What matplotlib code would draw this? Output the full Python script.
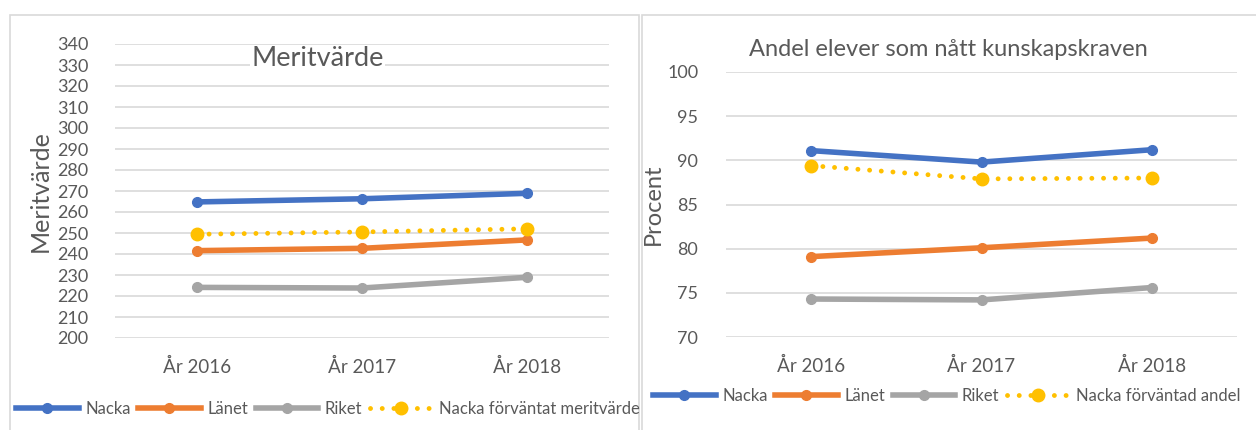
import matplotlib.pyplot as plt
from matplotlib.patches import Rectangle
from matplotlib.lines import Line2D

plt.rcParams['font.family'] = ['Lato', 'DejaVu Sans']

ar = ['År 2016', 'År 2017', 'År 2018']

# Meritvärde
merit_nacka = [264.8, 266.3, 268.9]
merit_lanet = [241.6, 242.7, 246.7]
merit_riket = [224.1, 223.8, 228.9]
merit_forvantat = [249.4, 250.5, 252.0]

# Andel elever som nått kunskapskraven (procent)
andel_nacka = [91.1, 89.8, 91.2]
andel_lanet = [79.1, 80.1, 81.2]
andel_riket = [74.3, 74.2, 75.6]
andel_forvantat = [89.4, 87.9, 88.0]

BLA = '#4472C4'
ORANGE = '#ED7D31'
GRA = '#A5A5A5'
GUL = '#FFC000'
TEXT = '#595959'
GRID = '#D9D9D9'
PRICK = (0, (0.01, 2.4))

W, H = 1256, 430
fig = plt.figure(figsize=(W / 100, H / 100), dpi=100)


def px_axes(x0, y0, x1, y1):
    # pixelkoordinater uppifrån vänster
    return fig.add_axes([x0 / W, 1 - y1 / H, (x1 - x0) / W, (y1 - y0) / H])


def ram(x0, y0, x1, y1):
    fig.patches.append(Rectangle((x0 / W, 1 - y1 / H), (x1 - x0) / W, (y1 - y0) / H,
                                 transform=fig.transFigure, fill=False,
                                 edgecolor=GRID, linewidth=1.2))


def rita(ax, serier, ymin, ymax, steg, ypad):
    x = range(len(ar))
    for varden, farg, stil in serier:
        if stil == 'prick':
            ax.plot(x, varden, color=farg, lw=3.5, linestyle=PRICK,
                    dash_capstyle='round', marker='o', markersize=9, zorder=3)
        else:
            ax.plot(x, varden, color=farg, lw=4, marker='o', markersize=7,
                    solid_capstyle='round', zorder=3)
    ax.set_xlim(-0.5, len(ar) - 0.5)
    ax.set_ylim(ymin, ymax)
    ax.set_yticks(range(ymin, ymax + 1, steg))
    ax.set_xticks(list(x))
    ax.set_xticklabels(ar)
    ax.grid(axis='y', color=GRID, lw=1.2)
    ax.set_axisbelow(True)
    for s in ax.spines.values():
        s.set_visible(False)
    ax.tick_params(length=0, labelsize=13, labelcolor=TEXT)
    ax.tick_params(axis='x', pad=14, labelsize=13.5)
    ax.tick_params(axis='y', pad=ypad)


def legend(namn, x, y):
    handles = [
        Line2D([], [], color=BLA, lw=4, marker='o', markersize=7),
        Line2D([], [], color=ORANGE, lw=4, marker='o', markersize=7),
        Line2D([], [], color=GRA, lw=4, marker='o', markersize=7),
        Line2D([], [], color=GUL, lw=3.5, linestyle=PRICK,
               dash_capstyle='round', marker='o', markersize=9),
    ]
    fig.legend(handles, ['Nacka', 'Länet', 'Riket', namn], ncol=4, numpoints=1,
               loc='center left', bbox_to_anchor=(x / W, 1 - y / H),
               frameon=False, fontsize=12, handlelength=3.75,
               handletextpad=0.4, columnspacing=0.45, borderpad=0,
               borderaxespad=0, labelcolor=TEXT)


# vänster diagram
ram(10, 15, 639, 440)
ax1 = px_axes(115, 44, 609, 338)
rita(ax1, [(merit_nacka, BLA, 'hel'), (merit_lanet, ORANGE, 'hel'),
           (merit_riket, GRA, 'hel'), (merit_forvantat, GUL, 'prick')], 200, 340, 10, 19)
ax1.set_ylabel('Meritvärde', fontsize=18, color=TEXT, labelpad=4)
ax1.text(0.41, 0.95, 'Meritvärde', transform=ax1.transAxes, ha='center', va='center',
         fontsize=19.5, color=TEXT, zorder=5,
         bbox=dict(facecolor='white', edgecolor='none', pad=1))
legend('Nacka förväntat meritvärde', 16, 409)

# höger diagram
ram(642, 15, 1262, 440)
ax2 = px_axes(726, 72, 1237, 337)
rita(ax2, [(andel_nacka, BLA, 'hel'), (andel_lanet, ORANGE, 'hel'),
           (andel_riket, GRA, 'hel'), (andel_forvantat, GUL, 'prick')], 70, 100, 5, 20)
ax2.set_ylabel('Procent', fontsize=17, color=TEXT, labelpad=2)
fig.text(948 / W, 1 - 50 / H, 'Andel elever som nått kunskapskraven', ha='center',
         va='center', fontsize=17, color=TEXT)
legend('Nacka förväntad andel', 653, 396)

fig.savefig('out.png', dpi=100)
